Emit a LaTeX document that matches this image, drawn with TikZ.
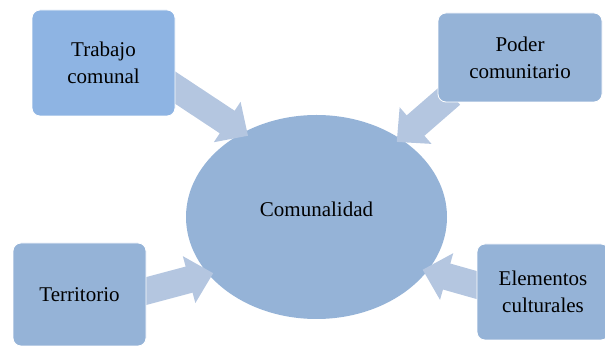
\documentclass[tikz,border=0pt]{standalone}
\usepackage{fontspec}
\setmainfont{Liberation Serif}
\usetikzlibrary{arrows.meta, shapes.geometric}

\definecolor{boxblue}{RGB}{142,180,227}
\definecolor{paleblue}{RGB}{149,179,215}
\definecolor{arrowblue}{RGB}{180,198,224}

\pgfdeclarelayer{back}
\pgfdeclarelayer{mid}
\pgfsetlayers{back,mid,main}

\begin{document}
\begin{tikzpicture}[x=1pt,y=1pt,
    every node/.style={font=\fontsize{21}{27}\selectfont, align=center},
    box/.style={rectangle, rounded corners=8pt, fill=paleblue, draw=white, line width=0.8pt, inner sep=0pt},
    hub/.style={ellipse, fill=paleblue, inner sep=0pt, minimum width=261, minimum height=204},
    flow/.style={arrowblue, line width=27pt, shorten <=-12pt,
        -{Triangle[width=47pt, length=25pt]}}]

\useasboundingbox (0,0) rectangle (605,348);
\clip (0,0) rectangle (605,348);

\begin{pgfonlayer}{back}
\node[hub, label={[yshift=8pt]center:Comunalidad}] (comunalidad) at (316.5,131) {};
\end{pgfonlayer}

\node[box, fill=boxblue, minimum width=143, minimum height=106] (trabajo) at (103.5,285) {Trabajo\\comunal};
\node[box, minimum width=164, minimum height=89] (poder) at (520,290.5) {Poder\\comunitario};
\node[box, minimum width=133, minimum height=103] (territorio) at (79.5,53.5) {Territorio};
\node[box, minimum width=132, minimum height=96] (elementos) at (543,56) {Elementos\\culturales};

\begin{pgfonlayer}{mid}
\draw[flow, shorten >=-6pt] (trabajo.-19) -- (comunalidad.131);
\draw[flow, shorten >=-5pt] (poder.210) -- (comunalidad.43);
\draw[flow, shorten >=-5pt] (territorio.3) -- (comunalidad.208);
\draw[flow, shorten >=-5pt] (elementos.174) -- (comunalidad.-26);
\end{pgfonlayer}

\end{tikzpicture}
\end{document}
